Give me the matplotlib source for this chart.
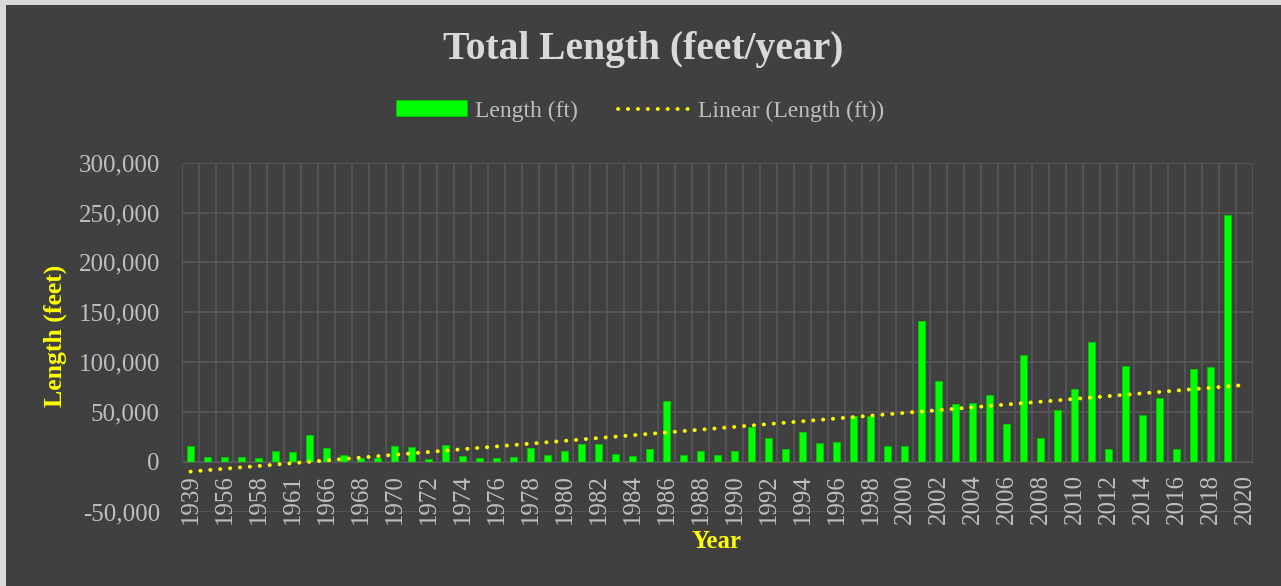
import numpy as np
import matplotlib
matplotlib.use("Agg")
import matplotlib.pyplot as plt
from matplotlib.patches import Rectangle

# categories (odd positions are not labelled on the axis)
years = ["1939", "1955", "1956", "1957", "1958", "1960", "1961", "1964",
         "1966", "1967", "1968", "1969", "1970", "1971", "1972", "1973",
         "1974", "1975", "1976", "1977", "1978", "1979", "1980", "1981",
         "1982", "1983", "1984", "1985", "1986", "1987", "1988", "1989",
         "1990", "1991", "1992", "1993", "1994", "1995", "1996", "1997",
         "1998", "1999", "2000", "2001", "2002", "2003", "2004", "2005",
         "2006", "2007", "2008", "2009", "2010", "2011", "2012", "2013",
         "2014", "2015", "2016", "2017", "2018", "2019", "2020"]

lengths = [16000, 5000, 4300, 5000, 3300, 10700, 9700, 27000,
           14000, 6300, 3300, 3300, 16000, 14700, 2700, 16700,
           5700, 3300, 3700, 4300, 14000, 6700, 10700, 17400,
           18000, 7300, 5700, 13000, 61000, 6700, 10700, 6700,
           10700, 35100, 23400, 12400, 29800, 19000, 20100, 45800,
           45800, 16000, 16000, 140900, 81000, 57900, 58600, 66900,
           37800, 106800, 23700, 52200, 72600, 120100, 12700, 95700,
           46800, 63900, 12400, 92700, 95000, 247700, 0]

y_ticks = list(range(-50000, 300001, 50000))

BG = "#404040"
GRID = "#595959"
TXT = "#BFBFBF"
FONT = "Liberation Serif"

W, H = 1281, 586
fig = plt.figure(figsize=(W / 100, H / 100), dpi=100)
fig.patch.set_facecolor("#D9D9D9")
fig.add_artist(Rectangle((6 / W, 0), 1, (H - 5) / H, transform=fig.transFigure,
                         facecolor=BG, edgecolor="none", zorder=-10))

ax = fig.add_axes([182 / W, 1 - 511.5 / H, 1071 / W, (511.5 - 162.7) / H])
ax.set_facecolor("none")

# axis crosses at zero, like the Excel original (do this before tick setup)
for s in ["top", "right", "left"]:
    ax.spines[s].set_visible(False)
ax.spines["bottom"].set_position(("data", 0))
ax.spines["bottom"].set_color(GRID)

x = np.arange(len(years))
n = len(years)

# gridlines
for yt in y_ticks:
    ax.axhline(yt, color=GRID, lw=1.1, zorder=0)
ax.vlines(np.arange(n + 1) - 0.5, 0, 300000, color=GRID, lw=1.1, zorder=0)

bars = ax.bar(x, lengths, width=0.36, color="#00FF00", edgecolor="#00CC00",
              linewidth=0.5, zorder=2, label="Length (ft)")

# Excel-style linear trendline
coef = np.polyfit(x + 1, lengths, 1)
trend = np.polyval(coef, x + 1)
line, = ax.plot(x, trend, color="#FFFF00", lw=2.8, linestyle=(0, (0.05, 2.5)),
                dash_capstyle="round", zorder=3, label="Linear (Length (ft))")

ax.set_xlim(-0.5, n - 0.5)
ax.set_ylim(-50000, 300000)

ax.set_yticks(y_ticks)
ax.set_yticklabels([f"{v:,}" for v in y_ticks], fontfamily=FONT)
ax.tick_params(axis="y", length=0, pad=16, labelsize=18, labelcolor=TXT)

ax.set_xticks(x[::2])
ax.set_xticklabels(years[::2], rotation=90, fontfamily=FONT)
ax.tick_params(axis="x", length=0, pad=9, labelsize=18, labelcolor=TXT)

fig.text(643.5 / W, 1 - 49.5 / H, "Total Length (feet/year)", ha="center", va="center",
         fontsize=28.5, fontweight="bold", color="#D9D9D9", family=FONT)
fig.text(55 / W, 1 - 336 / H, "Length (feet)", rotation=90, ha="center", va="center",
         fontsize=18.5, fontweight="bold", color="#FFFF00", family=FONT)
fig.text(717 / W, 1 - 542 / H, "Year", ha="center", va="center",
         fontsize=18, fontweight="bold", color="#FFFF00", family=FONT)

leg = fig.legend([bars, line], ["Length (ft)", "Linear (Length (ft))"],
                 loc="center", bbox_to_anchor=(640 / W, 1 - 111 / H), ncol=2,
                 frameon=False, prop={"family": FONT, "size": 17},
                 handlelength=3.0, handleheight=0.65, handletextpad=0.35,
                 columnspacing=1.7)
for t in leg.get_texts():
    t.set_color(TXT)

fig.savefig("out.png", dpi=100, facecolor=fig.get_facecolor())
